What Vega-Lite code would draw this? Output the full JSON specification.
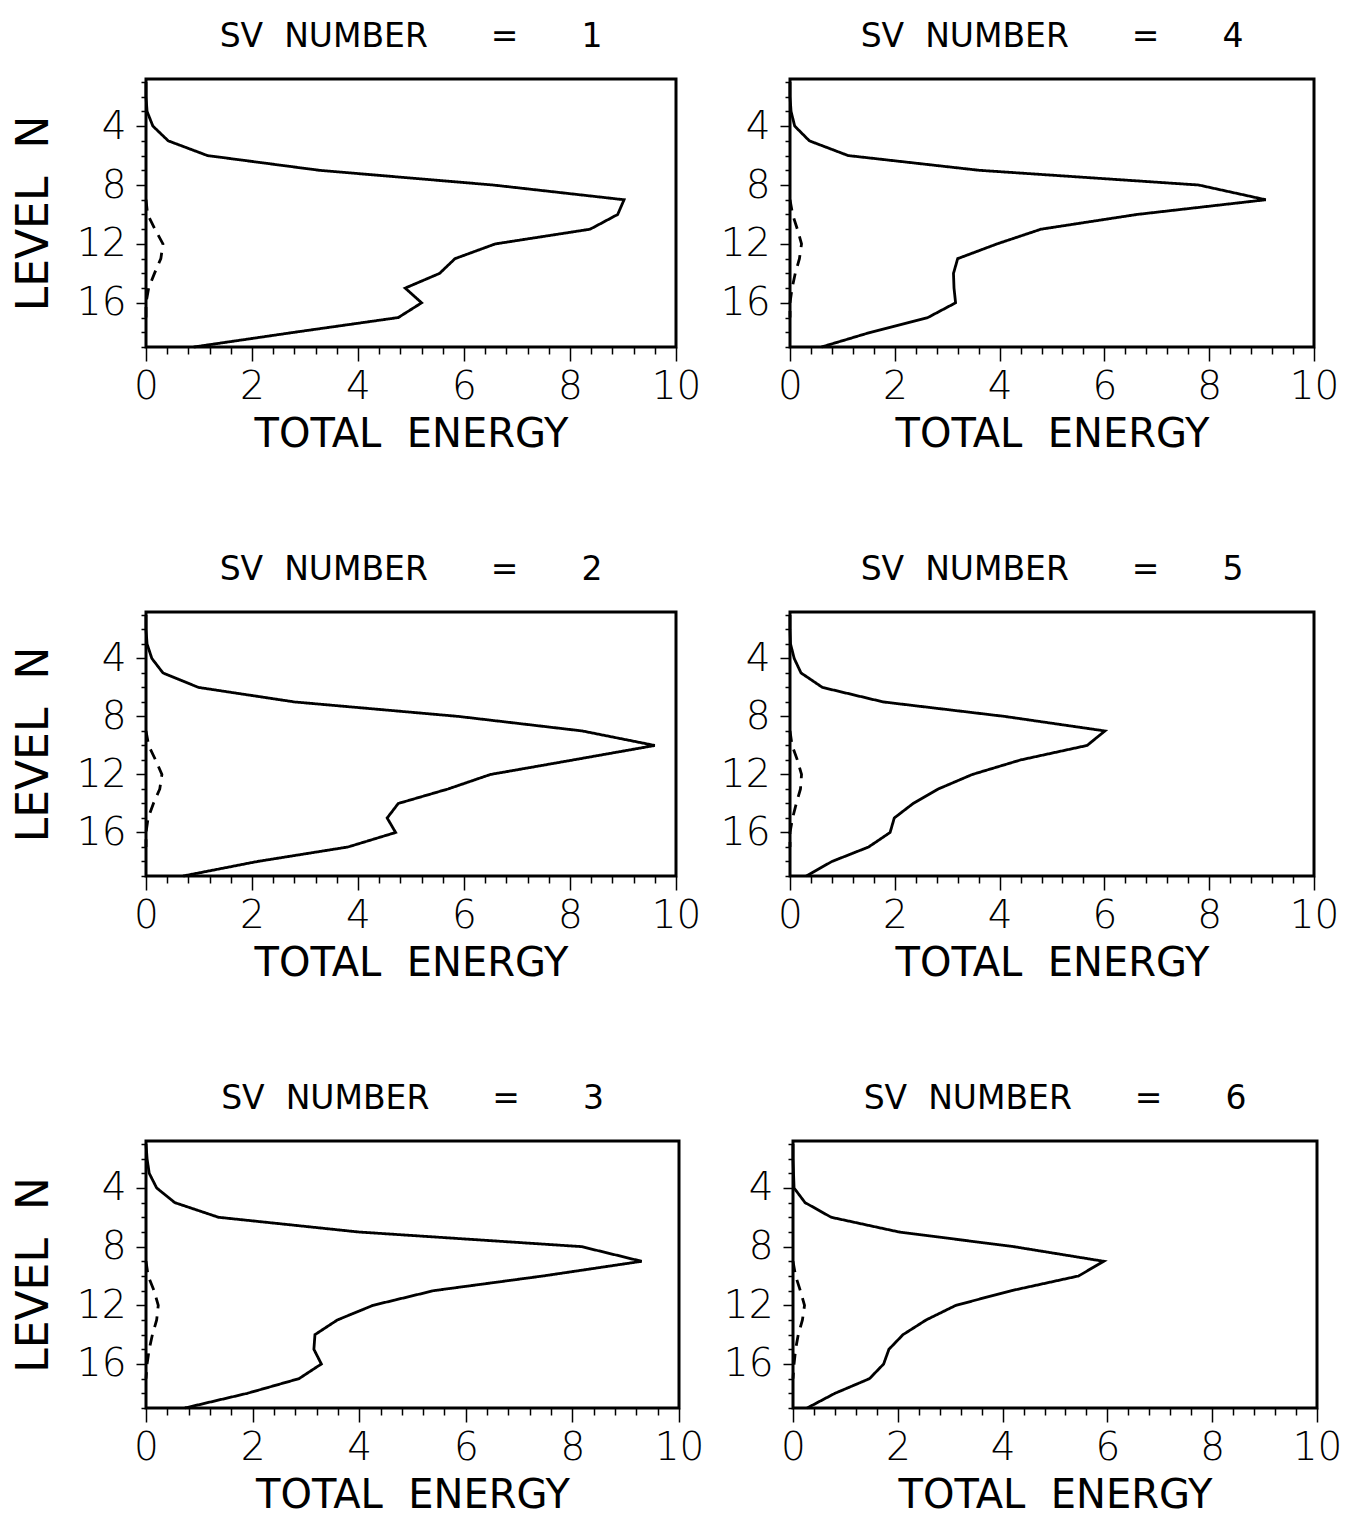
{
  "$schema": "https://vega.github.io/schema/vega-lite/v6.json",
  "padding": {"left": 10, "top": 19, "right": 0, "bottom": 0},
  "background": "white",
  "datasets": {
    "e": [
      {"sv":1,"kind":"a","lev":1,"e":0},{"sv":1,"kind":"a","lev":2,"e":0},{"sv":1,"kind":"a","lev":3,"e":0.02},{"sv":1,"kind":"a","lev":4,"e":0.13},{"sv":1,"kind":"a","lev":5,"e":0.42},{"sv":1,"kind":"a","lev":6,"e":1.16},{"sv":1,"kind":"a","lev":7,"e":3.27},{"sv":1,"kind":"a","lev":8,"e":6.55},{"sv":1,"kind":"a","lev":9,"e":9.02},{"sv":1,"kind":"a","lev":10,"e":8.9},{"sv":1,"kind":"a","lev":11,"e":8.38},{"sv":1,"kind":"a","lev":12,"e":6.59},{"sv":1,"kind":"a","lev":13,"e":5.83},{"sv":1,"kind":"a","lev":14,"e":5.54},{"sv":1,"kind":"a","lev":15,"e":4.89},{"sv":1,"kind":"a","lev":16,"e":5.2},{"sv":1,"kind":"a","lev":17,"e":4.76},{"sv":1,"kind":"a","lev":18,"e":2.8},{"sv":1,"kind":"a","lev":19,"e":0.9},
      {"sv":1,"kind":"b","lev":9,"e":0},{"sv":1,"kind":"b","lev":10,"e":0.03},{"sv":1,"kind":"b","lev":11,"e":0.17},{"sv":1,"kind":"b","lev":12,"e":0.32},{"sv":1,"kind":"b","lev":13,"e":0.28},{"sv":1,"kind":"b","lev":14,"e":0.16},{"sv":1,"kind":"b","lev":15,"e":0.05},{"sv":1,"kind":"b","lev":16,"e":0},{"sv":1,"kind":"b","lev":17,"e":0},
      {"sv":4,"kind":"a","lev":1,"e":0},{"sv":4,"kind":"a","lev":2,"e":0},{"sv":4,"kind":"a","lev":3,"e":0.02},{"sv":4,"kind":"a","lev":4,"e":0.09},{"sv":4,"kind":"a","lev":5,"e":0.37},{"sv":4,"kind":"a","lev":6,"e":1.11},{"sv":4,"kind":"a","lev":7,"e":3.61},{"sv":4,"kind":"a","lev":8,"e":7.8},{"sv":4,"kind":"a","lev":9,"e":9.08},{"sv":4,"kind":"a","lev":10,"e":6.62},{"sv":4,"kind":"a","lev":11,"e":4.79},{"sv":4,"kind":"a","lev":12,"e":3.95},{"sv":4,"kind":"a","lev":13,"e":3.2},{"sv":4,"kind":"a","lev":14,"e":3.12},{"sv":4,"kind":"a","lev":15,"e":3.13},{"sv":4,"kind":"a","lev":16,"e":3.16},{"sv":4,"kind":"a","lev":17,"e":2.63},{"sv":4,"kind":"a","lev":18,"e":1.54},{"sv":4,"kind":"a","lev":19,"e":0.6},
      {"sv":4,"kind":"b","lev":9,"e":0},{"sv":4,"kind":"b","lev":10,"e":0.05},{"sv":4,"kind":"b","lev":11,"e":0.14},{"sv":4,"kind":"b","lev":12,"e":0.22},{"sv":4,"kind":"b","lev":13,"e":0.18},{"sv":4,"kind":"b","lev":14,"e":0.1},{"sv":4,"kind":"b","lev":15,"e":0.04},{"sv":4,"kind":"b","lev":16,"e":0},{"sv":4,"kind":"b","lev":17,"e":0},
      {"sv":2,"kind":"a","lev":1,"e":0},{"sv":2,"kind":"a","lev":2,"e":0},{"sv":2,"kind":"a","lev":3,"e":0.02},{"sv":2,"kind":"a","lev":4,"e":0.11},{"sv":2,"kind":"a","lev":5,"e":0.32},{"sv":2,"kind":"a","lev":6,"e":0.99},{"sv":2,"kind":"a","lev":7,"e":2.8},{"sv":2,"kind":"a","lev":8,"e":5.9},{"sv":2,"kind":"a","lev":9,"e":8.23},{"sv":2,"kind":"a","lev":10,"e":9.6},{"sv":2,"kind":"a","lev":11,"e":8.06},{"sv":2,"kind":"a","lev":12,"e":6.5},{"sv":2,"kind":"a","lev":13,"e":5.7},{"sv":2,"kind":"a","lev":14,"e":4.76},{"sv":2,"kind":"a","lev":15,"e":4.55},{"sv":2,"kind":"a","lev":16,"e":4.71},{"sv":2,"kind":"a","lev":17,"e":3.81},{"sv":2,"kind":"a","lev":18,"e":2.1},{"sv":2,"kind":"a","lev":19,"e":0.7},
      {"sv":2,"kind":"b","lev":9,"e":0},{"sv":2,"kind":"b","lev":10,"e":0.05},{"sv":2,"kind":"b","lev":11,"e":0.18},{"sv":2,"kind":"b","lev":12,"e":0.3},{"sv":2,"kind":"b","lev":13,"e":0.26},{"sv":2,"kind":"b","lev":14,"e":0.14},{"sv":2,"kind":"b","lev":15,"e":0.04},{"sv":2,"kind":"b","lev":16,"e":0},{"sv":2,"kind":"b","lev":17,"e":0},
      {"sv":5,"kind":"a","lev":1,"e":0},{"sv":5,"kind":"a","lev":2,"e":0},{"sv":5,"kind":"a","lev":3,"e":0.01},{"sv":5,"kind":"a","lev":4,"e":0.08},{"sv":5,"kind":"a","lev":5,"e":0.21},{"sv":5,"kind":"a","lev":6,"e":0.62},{"sv":5,"kind":"a","lev":7,"e":1.78},{"sv":5,"kind":"a","lev":8,"e":4.1},{"sv":5,"kind":"a","lev":9,"e":6.01},{"sv":5,"kind":"a","lev":10,"e":5.67},{"sv":5,"kind":"a","lev":11,"e":4.4},{"sv":5,"kind":"a","lev":12,"e":3.48},{"sv":5,"kind":"a","lev":13,"e":2.83},{"sv":5,"kind":"a","lev":14,"e":2.35},{"sv":5,"kind":"a","lev":15,"e":1.99},{"sv":5,"kind":"a","lev":16,"e":1.91},{"sv":5,"kind":"a","lev":17,"e":1.5},{"sv":5,"kind":"a","lev":18,"e":0.8},{"sv":5,"kind":"a","lev":19,"e":0.31},
      {"sv":5,"kind":"b","lev":9,"e":0},{"sv":5,"kind":"b","lev":10,"e":0.04},{"sv":5,"kind":"b","lev":11,"e":0.14},{"sv":5,"kind":"b","lev":12,"e":0.22},{"sv":5,"kind":"b","lev":13,"e":0.2},{"sv":5,"kind":"b","lev":14,"e":0.12},{"sv":5,"kind":"b","lev":15,"e":0.05},{"sv":5,"kind":"b","lev":16,"e":0},{"sv":5,"kind":"b","lev":17,"e":0},
      {"sv":3,"kind":"a","lev":1,"e":0},{"sv":3,"kind":"a","lev":2,"e":0.02},{"sv":3,"kind":"a","lev":3,"e":0.06},{"sv":3,"kind":"a","lev":4,"e":0.2},{"sv":3,"kind":"a","lev":5,"e":0.54},{"sv":3,"kind":"a","lev":6,"e":1.36},{"sv":3,"kind":"a","lev":7,"e":3.98},{"sv":3,"kind":"a","lev":8,"e":8.17},{"sv":3,"kind":"a","lev":9,"e":9.3},{"sv":3,"kind":"a","lev":10,"e":7.45},{"sv":3,"kind":"a","lev":11,"e":5.4},{"sv":3,"kind":"a","lev":12,"e":4.26},{"sv":3,"kind":"a","lev":13,"e":3.59},{"sv":3,"kind":"a","lev":14,"e":3.17},{"sv":3,"kind":"a","lev":15,"e":3.15},{"sv":3,"kind":"a","lev":16,"e":3.29},{"sv":3,"kind":"a","lev":17,"e":2.87},{"sv":3,"kind":"a","lev":18,"e":1.9},{"sv":3,"kind":"a","lev":19,"e":0.73},
      {"sv":3,"kind":"b","lev":9,"e":0},{"sv":3,"kind":"b","lev":10,"e":0.04},{"sv":3,"kind":"b","lev":11,"e":0.15},{"sv":3,"kind":"b","lev":12,"e":0.23},{"sv":3,"kind":"b","lev":13,"e":0.2},{"sv":3,"kind":"b","lev":14,"e":0.12},{"sv":3,"kind":"b","lev":15,"e":0.06},{"sv":3,"kind":"b","lev":16,"e":0.02},{"sv":3,"kind":"b","lev":17,"e":0},
      {"sv":6,"kind":"a","lev":1,"e":0},{"sv":6,"kind":"a","lev":2,"e":0},{"sv":6,"kind":"a","lev":3,"e":0.01},{"sv":6,"kind":"a","lev":4,"e":0.02},{"sv":6,"kind":"a","lev":5,"e":0.23},{"sv":6,"kind":"a","lev":6,"e":0.73},{"sv":6,"kind":"a","lev":7,"e":2.02},{"sv":6,"kind":"a","lev":8,"e":4.21},{"sv":6,"kind":"a","lev":9,"e":5.93},{"sv":6,"kind":"a","lev":10,"e":5.45},{"sv":6,"kind":"a","lev":11,"e":4.17},{"sv":6,"kind":"a","lev":12,"e":3.11},{"sv":6,"kind":"a","lev":13,"e":2.54},{"sv":6,"kind":"a","lev":14,"e":2.1},{"sv":6,"kind":"a","lev":15,"e":1.83},{"sv":6,"kind":"a","lev":16,"e":1.73},{"sv":6,"kind":"a","lev":17,"e":1.46},{"sv":6,"kind":"a","lev":18,"e":0.8},{"sv":6,"kind":"a","lev":19,"e":0.27},
      {"sv":6,"kind":"b","lev":9,"e":0},{"sv":6,"kind":"b","lev":10,"e":0.05},{"sv":6,"kind":"b","lev":11,"e":0.14},{"sv":6,"kind":"b","lev":12,"e":0.22},{"sv":6,"kind":"b","lev":13,"e":0.18},{"sv":6,"kind":"b","lev":14,"e":0.1},{"sv":6,"kind":"b","lev":15,"e":0.05},{"sv":6,"kind":"b","lev":16,"e":0.02},{"sv":6,"kind":"b","lev":17,"e":0}
    ]
  },
  "vconcat": [
    {"hconcat": [
      {"title": "SV\u00a0\u00a0NUMBER\u00a0\u00a0\u00a0\u00a0\u00a0\u00a0=\u00a0\u00a0\u00a0\u00a0\u00a0\u00a01",
       "width": 530, "height": 268, "data": {"name": "e"}, "transform": [{"filter": "datum.sv === 1"}],
       "mark": {"type": "line", "color": "black", "strokeWidth": 2.8},
       "encoding": {
         "x": {"field": "e", "type": "quantitative", "scale": {"domain": [0, 10], "nice": false, "zero": false}, "axis": {"values": [0,0.4,0.8,1.2,1.6,2,2.4,2.8,3.2,3.6,4,4.4,4.8,5.2,5.6,6,6.4,6.8,7.2,7.6,8,8.4,8.8,9.2,9.6,10], "labelExpr": "datum.value % 2 === 0 ? '' + datum.value : ''", "tickSize": {"condition": {"test": "datum.value % 2 === 0", "value": 14}, "value": 7}, "title": "TOTAL\u00a0\u00a0ENERGY"}},
         "y": {"field": "lev", "type": "quantitative", "scale": {"domain": [0.8, 19], "reverse": true, "nice": false, "zero": false}, "axis": {"values": [1,2,3,4,5,6,7,8,9,10,11,12,13,14,15,16,17,18,19], "labelExpr": "datum.value % 4 === 0 ? '' + datum.value : ''", "tickSize": {"condition": {"test": "datum.value % 4 === 0", "value": 10}, "value": 5}, "title": "LEVEL\u00a0\u00a0N"}},
         "order": {"field": "lev", "type": "quantitative"},
         "strokeDash": {"field": "kind", "type": "nominal", "scale": {"domain": ["a", "b"], "range": [[1, 0], [11, 8]]}, "legend": null}
       }},
      {"title": "SV\u00a0\u00a0NUMBER\u00a0\u00a0\u00a0\u00a0\u00a0\u00a0=\u00a0\u00a0\u00a0\u00a0\u00a0\u00a04",
       "width": 524, "height": 268, "data": {"name": "e"}, "transform": [{"filter": "datum.sv === 4"}],
       "mark": {"type": "line", "color": "black", "strokeWidth": 2.8},
       "encoding": {
         "x": {"field": "e", "type": "quantitative", "scale": {"domain": [0, 10], "nice": false, "zero": false}, "axis": {"values": [0,0.4,0.8,1.2,1.6,2,2.4,2.8,3.2,3.6,4,4.4,4.8,5.2,5.6,6,6.4,6.8,7.2,7.6,8,8.4,8.8,9.2,9.6,10], "labelExpr": "datum.value % 2 === 0 ? '' + datum.value : ''", "tickSize": {"condition": {"test": "datum.value % 2 === 0", "value": 14}, "value": 7}, "title": "TOTAL\u00a0\u00a0ENERGY"}},
         "y": {"field": "lev", "type": "quantitative", "scale": {"domain": [0.8, 19], "reverse": true, "nice": false, "zero": false}, "axis": {"values": [1,2,3,4,5,6,7,8,9,10,11,12,13,14,15,16,17,18,19], "labelExpr": "datum.value % 4 === 0 ? '' + datum.value : ''", "tickSize": {"condition": {"test": "datum.value % 4 === 0", "value": 10}, "value": 5}, "title": null}},
         "order": {"field": "lev", "type": "quantitative"},
         "strokeDash": {"field": "kind", "type": "nominal", "scale": {"domain": ["a", "b"], "range": [[1, 0], [11, 8]]}, "legend": null}
       }}
    ], "spacing": 15},
    {"hconcat": [
      {"title": "SV\u00a0\u00a0NUMBER\u00a0\u00a0\u00a0\u00a0\u00a0\u00a0=\u00a0\u00a0\u00a0\u00a0\u00a0\u00a02",
       "width": 530, "height": 264, "data": {"name": "e"}, "transform": [{"filter": "datum.sv === 2"}],
       "mark": {"type": "line", "color": "black", "strokeWidth": 2.8},
       "encoding": {
         "x": {"field": "e", "type": "quantitative", "scale": {"domain": [0, 10], "nice": false, "zero": false}, "axis": {"values": [0,0.4,0.8,1.2,1.6,2,2.4,2.8,3.2,3.6,4,4.4,4.8,5.2,5.6,6,6.4,6.8,7.2,7.6,8,8.4,8.8,9.2,9.6,10], "labelExpr": "datum.value % 2 === 0 ? '' + datum.value : ''", "tickSize": {"condition": {"test": "datum.value % 2 === 0", "value": 14}, "value": 7}, "title": "TOTAL\u00a0\u00a0ENERGY"}},
         "y": {"field": "lev", "type": "quantitative", "scale": {"domain": [0.8, 19], "reverse": true, "nice": false, "zero": false}, "axis": {"values": [1,2,3,4,5,6,7,8,9,10,11,12,13,14,15,16,17,18,19], "labelExpr": "datum.value % 4 === 0 ? '' + datum.value : ''", "tickSize": {"condition": {"test": "datum.value % 4 === 0", "value": 10}, "value": 5}, "title": "LEVEL\u00a0\u00a0N"}},
         "order": {"field": "lev", "type": "quantitative"},
         "strokeDash": {"field": "kind", "type": "nominal", "scale": {"domain": ["a", "b"], "range": [[1, 0], [11, 8]]}, "legend": null}
       }},
      {"title": "SV\u00a0\u00a0NUMBER\u00a0\u00a0\u00a0\u00a0\u00a0\u00a0=\u00a0\u00a0\u00a0\u00a0\u00a0\u00a05",
       "width": 524, "height": 264, "data": {"name": "e"}, "transform": [{"filter": "datum.sv === 5"}],
       "mark": {"type": "line", "color": "black", "strokeWidth": 2.8},
       "encoding": {
         "x": {"field": "e", "type": "quantitative", "scale": {"domain": [0, 10], "nice": false, "zero": false}, "axis": {"values": [0,0.4,0.8,1.2,1.6,2,2.4,2.8,3.2,3.6,4,4.4,4.8,5.2,5.6,6,6.4,6.8,7.2,7.6,8,8.4,8.8,9.2,9.6,10], "labelExpr": "datum.value % 2 === 0 ? '' + datum.value : ''", "tickSize": {"condition": {"test": "datum.value % 2 === 0", "value": 14}, "value": 7}, "title": "TOTAL\u00a0\u00a0ENERGY"}},
         "y": {"field": "lev", "type": "quantitative", "scale": {"domain": [0.8, 19], "reverse": true, "nice": false, "zero": false}, "axis": {"values": [1,2,3,4,5,6,7,8,9,10,11,12,13,14,15,16,17,18,19], "labelExpr": "datum.value % 4 === 0 ? '' + datum.value : ''", "tickSize": {"condition": {"test": "datum.value % 4 === 0", "value": 10}, "value": 5}, "title": null}},
         "order": {"field": "lev", "type": "quantitative"},
         "strokeDash": {"field": "kind", "type": "nominal", "scale": {"domain": ["a", "b"], "range": [[1, 0], [11, 8]]}, "legend": null}
       }}
    ], "spacing": 15},
    {"hconcat": [
      {"title": "SV\u00a0\u00a0NUMBER\u00a0\u00a0\u00a0\u00a0\u00a0\u00a0=\u00a0\u00a0\u00a0\u00a0\u00a0\u00a03",
       "width": 533, "height": 267, "data": {"name": "e"}, "transform": [{"filter": "datum.sv === 3"}],
       "mark": {"type": "line", "color": "black", "strokeWidth": 2.8},
       "encoding": {
         "x": {"field": "e", "type": "quantitative", "scale": {"domain": [0, 10], "nice": false, "zero": false}, "axis": {"values": [0,0.4,0.8,1.2,1.6,2,2.4,2.8,3.2,3.6,4,4.4,4.8,5.2,5.6,6,6.4,6.8,7.2,7.6,8,8.4,8.8,9.2,9.6,10], "labelExpr": "datum.value % 2 === 0 ? '' + datum.value : ''", "tickSize": {"condition": {"test": "datum.value % 2 === 0", "value": 14}, "value": 7}, "title": "TOTAL\u00a0\u00a0ENERGY"}},
         "y": {"field": "lev", "type": "quantitative", "scale": {"domain": [0.8, 19], "reverse": true, "nice": false, "zero": false}, "axis": {"values": [1,2,3,4,5,6,7,8,9,10,11,12,13,14,15,16,17,18,19], "labelExpr": "datum.value % 4 === 0 ? '' + datum.value : ''", "tickSize": {"condition": {"test": "datum.value % 4 === 0", "value": 10}, "value": 5}, "title": "LEVEL\u00a0\u00a0N"}},
         "order": {"field": "lev", "type": "quantitative"},
         "strokeDash": {"field": "kind", "type": "nominal", "scale": {"domain": ["a", "b"], "range": [[1, 0], [11, 8]]}, "legend": null}
       }},
      {"title": "SV\u00a0\u00a0NUMBER\u00a0\u00a0\u00a0\u00a0\u00a0\u00a0=\u00a0\u00a0\u00a0\u00a0\u00a0\u00a06",
       "width": 524, "height": 267, "data": {"name": "e"}, "transform": [{"filter": "datum.sv === 6"}],
       "mark": {"type": "line", "color": "black", "strokeWidth": 2.8},
       "encoding": {
         "x": {"field": "e", "type": "quantitative", "scale": {"domain": [0, 10], "nice": false, "zero": false}, "axis": {"values": [0,0.4,0.8,1.2,1.6,2,2.4,2.8,3.2,3.6,4,4.4,4.8,5.2,5.6,6,6.4,6.8,7.2,7.6,8,8.4,8.8,9.2,9.6,10], "labelExpr": "datum.value % 2 === 0 ? '' + datum.value : ''", "tickSize": {"condition": {"test": "datum.value % 2 === 0", "value": 14}, "value": 7}, "title": "TOTAL\u00a0\u00a0ENERGY"}},
         "y": {"field": "lev", "type": "quantitative", "scale": {"domain": [0.8, 19], "reverse": true, "nice": false, "zero": false}, "axis": {"values": [1,2,3,4,5,6,7,8,9,10,11,12,13,14,15,16,17,18,19], "labelExpr": "datum.value % 4 === 0 ? '' + datum.value : ''", "tickSize": {"condition": {"test": "datum.value % 4 === 0", "value": 10}, "value": 5}, "title": null}},
         "order": {"field": "lev", "type": "quantitative"},
         "strokeDash": {"field": "kind", "type": "nominal", "scale": {"domain": ["a", "b"], "range": [[1, 0], [11, 8]]}, "legend": null}
       }}
    ], "spacing": 15}
  ],
  "spacing": 96,
  "config": {
    "view": {"stroke": "black", "strokeWidth": 3},
    "axis": {"domain": false, "grid": false, "ticks": true, "tickColor": "black", "tickWidth": 1.5, "labelFont": "DejaVu Sans", "labelFontWeight": 200, "labelFontSize": 39, "labelColor": "black", "labelPadding": 10, "labelOverlap": false, "labelFlush": false, "labelBound": false, "titleFont": "DejaVu Sans", "titleFontWeight": "normal", "titleColor": "black"},
    "axisX": {"titleFontSize": 40, "titlePadding": 8, "labelPadding": 6},
    "axisY": {"titleFontSize": 44, "titlePadding": 20},
    "title": {"font": "DejaVu Sans", "fontSize": 33, "fontWeight": "normal", "color": "black", "anchor": "middle", "frame": "group", "offset": 9, "baseline": "alphabetic"}
  }
}
